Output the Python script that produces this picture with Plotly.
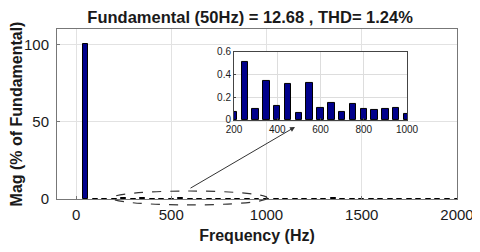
import plotly.graph_objects as go

title_text = "Fundamental (50Hz) = 12.68 , THD= 1.24%"
x_label = "Frequency (Hz)"
y_label = "Mag (% of Fundamental)"

freq = [50, 100, 150, 200, 250, 300, 350, 400, 450, 500, 550, 600, 650, 700, 750,
        800, 850, 900, 950, 1000, 1050, 1100, 1150, 1200, 1250, 1300, 1350, 1400,
        1450, 1500, 1550, 1600, 1650, 1700, 1750, 1800, 1850, 1900, 1950, 2000]
mag = [100, 0.04, 0.08, 0.07, 0.51, 0.10, 0.34, 0.12, 0.32, 0.06, 0.33, 0.11, 0.15, 0.075, 0.14,
       0.10, 0.09, 0.10, 0.105, 0.05, 0.05, 0.04, 0.05, 0.04, 0.05, 0.06, 0.35, 0.05,
       0.04, 0.05, 0.04, 0.04, 0.05, 0.04, 0.04, 0.03, 0.03, 0.03, 0.03, 0.03]

main_xticks = [0, 500, 1000, 1500, 2000]
main_yticks = [0, 50, 100]
inset_xticks = [200, 400, 600, 800, 1000]
inset_yticks = [0, 0.2, 0.4, 0.6]

bar_color = "#00008b"
font_family = "Liberation Sans, Arial, sans-serif"
text_color = "#1a1a1a"

fig = go.Figure()
fig.add_trace(go.Bar(x=freq, y=mag, width=26, marker=dict(color=bar_color, line=dict(color="black", width=1)),
                     xaxis="x", yaxis="y", showlegend=False))
fig.add_trace(go.Bar(x=freq, y=mag, width=30, marker=dict(color=bar_color, line=dict(color="black", width=1)),
                     xaxis="x2", yaxis="y2", showlegend=False))

fig.update_layout(
    width=472, height=244,
    margin=dict(l=49, r=23, t=21, b=53, autoexpand=False),
    paper_bgcolor="white", plot_bgcolor="white",
    font=dict(family=font_family, color=text_color),
    title=dict(text="<b>" + title_text + "</b>", x=0.513, xanchor="center", y=0.985, yanchor="top",
               font=dict(size=16.5, color=text_color)),
    xaxis=dict(domain=[0, 1], range=[-100, 2000], tickvals=main_xticks, showgrid=True, gridcolor="#e2e2e2",
               zeroline=False, showline=True, linecolor="#777777", linewidth=1, mirror=True,
               ticks="inside", ticklen=3, tickcolor="#777777", ticklabelstandoff=2,
               tickfont=dict(size=15, color=text_color, family=font_family), tickprefix="<b>", ticksuffix="</b>",
               title=dict(text="<b>" + x_label + "</b>", font=dict(size=16, color=text_color), standoff=7)),
    yaxis=dict(domain=[0, 1], range=[0, 110], tickvals=main_yticks, showgrid=True, gridcolor="#e2e2e2",
               zeroline=False, showline=True, linecolor="#777777", linewidth=1, mirror=True,
               ticks="inside", ticklen=3, tickcolor="#777777", ticklabelstandoff=4,
               tickfont=dict(size=15, color=text_color, family=font_family), tickprefix="<b>", ticksuffix="</b>",
               title=dict(text="<b>" + y_label + "</b>", font=dict(size=16, color=text_color), standoff=2)),
    xaxis2=dict(domain=[0.4425, 0.875], range=[200, 1000], tickvals=inset_xticks, anchor="y2",
                showgrid=True, gridcolor="#dddddd", zeroline=False, showline=True, linecolor="#444444",
                linewidth=1, mirror=True, ticks="inside", ticklen=2, tickcolor="#444444",
                tickfont=dict(size=10, color=text_color, family=font_family), tickprefix="<b>", ticksuffix="</b>"),
    yaxis2=dict(domain=[0.465, 0.865], range=[0, 0.6], tickvals=inset_yticks, anchor="x2",
                showgrid=True, gridcolor="#dddddd", zeroline=False, showline=True, linecolor="#444444",
                linewidth=1, mirror=True, ticks="inside", ticklen=2, tickcolor="#444444",
                tickfont=dict(size=10, color=text_color, family=font_family), tickprefix="<b>", ticksuffix="</b>"),
    bargap=0,
    shapes=[
        dict(type="rect", xref="x2 domain", yref="y2 domain", x0=0, x1=1, y0=0, y1=1,
             fillcolor="white", line=dict(width=0), layer="below"),
        dict(type="circle", xref="paper", yref="paper", x0=0.1375, x1=0.525, y0=-0.035, y1=0.047,
             line=dict(color="#333333", width=1.2, dash="dash")),
    ],
    annotations=[
        dict(xref="paper", yref="paper", x=0.595, y=0.4235, ax=-106, ay=62, axref="pixel", ayref="pixel",
             showarrow=True, arrowhead=2, arrowsize=1, arrowwidth=1, arrowcolor="#333333", text=""),
    ],
)

fig.write_html("out.html")
